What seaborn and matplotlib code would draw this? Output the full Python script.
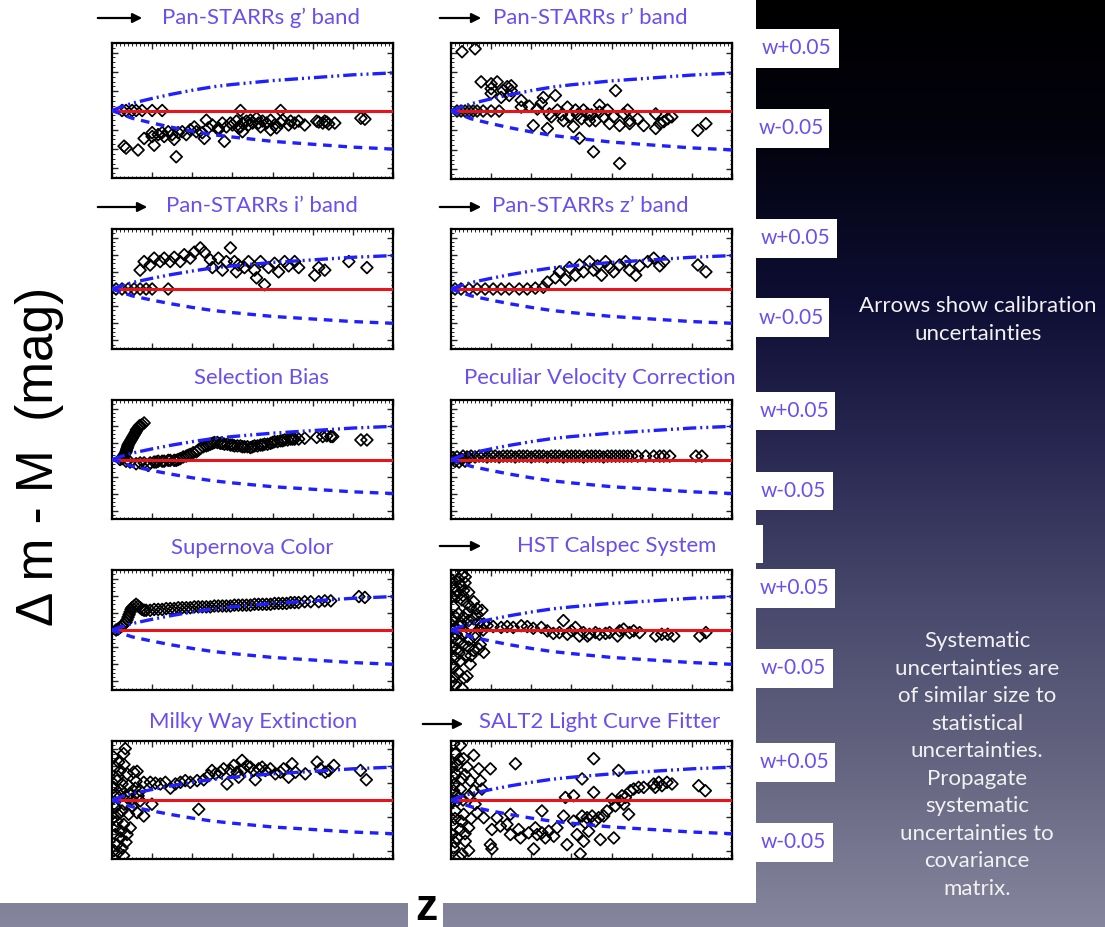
import numpy as np
import matplotlib
matplotlib.use("Agg")
import matplotlib.pyplot as plt
import seaborn as sns
from matplotlib.patches import Rectangle, FancyArrowPatch
from matplotlib.ticker import MultipleLocator

# ---------------- data (z, delta m-M in mag) ----------------
curve_z = [0, 0.05, 0.1, 0.2, 0.3, 0.4, 0.5, 0.6, 0.8, 1.0, 1.2, 1.4]
curve_wplus = [0, 0.004, 0.0075, 0.0125, 0.017, 0.021, 0.0245, 0.027, 0.031, 0.034, 0.037, 0.039]
curve_wminus = [0, -0.004, -0.008, -0.013, -0.0175, -0.0215, -0.025, -0.0275, -0.032, -0.035, -0.038, -0.040]

gband_pts = [(0.05,0),(0.07,0),(0.10,0),(0.12,0),(0.15,0),(0.20,0),(0.25,0),(0.64,0),(0.84,0),
 (0.06,-0.037),(0.07,-0.039),(0.13,-0.041),(0.16,-0.029),(0.20,-0.023),(0.20,-0.027),(0.21,-0.036),
 (0.23,-0.025),(0.25,-0.023),(0.26,-0.027),(0.28,-0.022),(0.30,-0.025),(0.31,-0.030),(0.32,-0.048),
 (0.33,-0.023),(0.35,-0.022),(0.37,-0.025),(0.39,-0.020),(0.41,-0.017),(0.42,-0.022),(0.45,-0.023),
 (0.46,-0.029),(0.47,-0.010),(0.48,-0.018),(0.50,-0.015),(0.53,-0.020),(0.53,-0.018),(0.55,-0.013),
 (0.56,-0.032),(0.57,-0.017),(0.59,-0.013),(0.60,-0.015),(0.62,-0.011),(0.63,-0.018),(0.64,-0.017),
 (0.65,-0.022),(0.65,-0.013),(0.67,-0.011),(0.68,-0.015),(0.69,-0.010),(0.70,-0.013),(0.72,-0.008),
 (0.73,-0.013),(0.74,-0.017),(0.75,-0.011),(0.77,-0.013),(0.79,-0.020),(0.79,-0.010),(0.81,-0.015),
 (0.82,-0.018),(0.84,-0.013),(0.85,-0.010),(0.88,-0.015),(0.89,-0.011),(0.91,-0.013),(0.93,-0.011),
 (0.96,-0.015),(1.02,-0.011),(1.03,-0.012),(1.05,-0.013),(1.06,-0.011),(1.07,-0.012),(1.08,-0.014),
 (1.11,-0.013),(1.24,-0.008),(1.26,-0.009)]

rband_pts = [(0.055,0.061),(0.12,0.064),
 (0.03,0),(0.05,0),(0.07,0),(0.09,0),(0.11,0),(0.13,0),(0.16,0),(0.20,0),(0.24,0),
 (0.15,0.030),(0.20,0.023),(0.20,0.028),(0.23,0.030),(0.20,0.018),(0.25,0.014),(0.26,0.021),
 (0.28,0.025),(0.30,0.026),(0.29,0.016),(0.30,0.021),(0.35,0.011),(0.35,0.004),(0.39,0.005),
 (0.41,-0.015),(0.43,0.002),(0.45,0.008),(0.46,0.014),(0.48,-0.018),(0.49,-0.003),(0.50,-0.006),
 (0.52,0.016),(0.53,0.001),(0.55,-0.004),(0.56,-0.010),(0.58,0.004),(0.59,-0.006),(0.61,-0.016),
 (0.62,0.001),(0.63,-0.004),(0.64,-0.028),(0.65,-0.008),(0.66,0.001),(0.68,-0.003),(0.69,-0.010),
 (0.70,-0.004),(0.71,-0.042),(0.72,-0.010),(0.74,-0.001),(0.74,0.006),(0.76,-0.006),(0.78,0.001),
 (0.79,-0.013),(0.81,-0.006),(0.82,0.021),(0.84,-0.054),(0.84,-0.015),(0.86,-0.003),(0.88,0.001),
 (0.89,-0.010),(0.89,-0.013),(0.93,-0.008),(0.96,-0.015),(1.02,-0.003),(1.02,-0.018),(1.04,-0.013),
 (1.06,-0.011),(1.08,-0.008),(1.10,-0.006),(1.23,-0.020),(1.27,-0.013)]

iband_pts = [(0.02,0),(0.05,0),(0.08,0),(0.11,0),(0.14,0),(0.17,0),(0.20,0),(0.28,0),
 (0.14,0.022),(0.16,0.032),(0.19,0.028),(0.21,0.036),(0.24,0.032),(0.26,0.036),(0.29,0.032),
 (0.31,0.037),(0.34,0.032),(0.36,0.040),(0.39,0.036),(0.41,0.043),(0.44,0.048),(0.46,0.043),
 (0.49,0.034),(0.50,0.025),(0.53,0.036),(0.55,0.022),(0.57,0.032),(0.59,0.048),(0.61,0.032),
 (0.62,0.020),(0.63,0.028),(0.66,0.025),(0.68,0.032),(0.71,0.022),(0.72,0.013),(0.74,0.032),
 (0.76,0.005),(0.78,0.025),(0.81,0.030),(0.83,0.020),(0.86,0.032),(0.88,0.027),(0.91,0.032),
 (0.93,0.025),(1.01,0.016),(1.03,0.025),(1.06,0.022),(1.18,0.032),(1.27,0.025)]

zband_pts = [(0.02,0),(0.05,0),(0.09,0),(0.13,0),(0.17,0),(0.21,0),(0.25,0),(0.29,0),(0.34,0),
 (0.38,0),(0.42,0.001),(0.46,0.002),
 (0.48,0.008),(0.52,0.013),(0.54,0.020),(0.57,0.011),(0.59,0.025),(0.62,0.016),(0.64,0.028),
 (0.66,0.020),(0.69,0.032),(0.71,0.022),(0.73,0.027),(0.75,0.016),(0.77,0.032),(0.79,0.025),
 (0.81,0.020),(0.84,0.028),(0.87,0.032),(0.89,0.022),(0.92,0.016),(0.94,0.027),(0.98,0.032),
 (1.01,0.036),(1.04,0.027),(1.06,0.032),(1.23,0.028),(1.27,0.020)]

selbias_pts = [(0.04,0.0),(0.05,0.001),(0.055,0.003),(0.06,0.005),(0.065,0.007),(0.07,0.009),
 (0.072,0.011),(0.075,0.013),(0.078,0.015),(0.08,0.017),(0.085,0.019),(0.09,0.021),(0.095,0.023),
 (0.10,0.025),(0.105,0.027),(0.11,0.029),(0.115,0.031),(0.12,0.033),(0.122,0.035),(0.13,0.037),
 (0.135,0.039),(0.14,0.040),(0.15,0.041),(0.16,0.043),
 (0.07,-0.002),(0.09,-0.003),(0.12,-0.005),(0.14,-0.004),(0.16,-0.004),(0.18,-0.007),(0.19,-0.004),
 (0.21,-0.003),(0.22,-0.003),(0.23,-0.002),(0.25,-0.002),(0.26,-0.002),(0.28,-0.001),(0.29,-0.001),
 (0.31,-0.001),(0.32,-0.001),(0.33,0.000),(0.34,0.001),(0.355,0.003),(0.37,0.004),(0.38,0.005),
 (0.39,0.006),(0.405,0.008),(0.42,0.009),(0.43,0.011),(0.44,0.013),(0.455,0.015),(0.47,0.016),
 (0.48,0.017),(0.49,0.018),(0.50,0.019),(0.51,0.020),(0.525,0.020),(0.54,0.019),(0.55,0.019),
 (0.56,0.018),(0.575,0.018),(0.59,0.017),(0.60,0.017),(0.61,0.016),(0.625,0.016),(0.64,0.016),
 (0.65,0.015),(0.66,0.015),(0.675,0.015),(0.69,0.014),(0.70,0.015),(0.71,0.016),(0.725,0.016),
 (0.74,0.017),(0.75,0.017),(0.76,0.018),(0.775,0.018),(0.79,0.019),(0.80,0.020),(0.81,0.021),
 (0.825,0.021),(0.84,0.022),(0.85,0.022),(0.86,0.023),(0.875,0.023),(0.89,0.024),(0.90,0.024),
 (0.91,0.024),(0.93,0.024),(0.96,0.025),(1.02,0.026),(1.05,0.027),(1.07,0.028),(1.09,0.027),
 (1.10,0.027),(1.24,0.023),(1.27,0.023)]

pecvel_pts = [(0.01,0.002),(0.02,-0.002),(0.03,0.003),(0.04,-0.003),(0.05,0.001),(0.06,0.004),
 (0.07,-0.002),(0.08,0.003),(0.09,0.002),(0.10,0.004),(0.12,0.003),(0.14,0.004),(0.16,0.004),
 (0.18,0.003),(0.20,0.004),(0.22,0.004),(0.24,0.003),(0.26,0.004),(0.28,0.004),(0.30,0.004),
 (0.32,0.003),(0.34,0.004),(0.36,0.004),(0.38,0.004),(0.40,0.003),(0.42,0.004),(0.44,0.004),
 (0.46,0.004),(0.48,0.003),(0.50,0.004),(0.52,0.004),(0.54,0.004),(0.56,0.003),(0.58,0.004),
 (0.60,0.004),(0.62,0.004),(0.64,0.004),(0.66,0.003),(0.68,0.004),(0.70,0.004),(0.72,0.004),
 (0.74,0.004),(0.76,0.003),(0.78,0.004),(0.80,0.004),(0.82,0.004),(0.84,0.004),(0.86,0.004),
 (0.88,0.004),(0.90,0.004),(0.93,0.004),(0.97,0.004),(1.01,0.004),(1.04,0.004),(1.06,0.004),
 (1.09,0.004),(1.22,0.004),(1.25,0.004)]

sncolor_pts = [(0.02,0.0),(0.03,0.001),(0.04,0.003),(0.05,0.005),(0.06,0.007),(0.07,0.009),
 (0.075,0.012),(0.08,0.015),(0.085,0.018),(0.09,0.021),(0.095,0.024),(0.10,0.026),(0.11,0.028),
 (0.12,0.030),(0.13,0.028),(0.14,0.026),(0.15,0.024),(0.16,0.023),(0.17,0.023),(0.19,0.023),
 (0.21,0.024),(0.23,0.024),(0.25,0.024),(0.27,0.025),(0.29,0.025),(0.31,0.025),(0.33,0.026),
 (0.35,0.026),(0.37,0.026),(0.39,0.026),(0.41,0.027),(0.43,0.027),(0.45,0.027),(0.47,0.027),
 (0.49,0.027),(0.51,0.028),(0.53,0.028),(0.55,0.028),(0.57,0.028),(0.59,0.028),(0.61,0.029),
 (0.63,0.029),(0.65,0.029),(0.67,0.029),(0.69,0.029),(0.71,0.030),(0.73,0.030),(0.75,0.030),
 (0.77,0.030),(0.79,0.030),(0.81,0.031),(0.83,0.031),(0.85,0.031),(0.87,0.031),(0.89,0.032),
 (0.91,0.032),(0.93,0.032),(0.96,0.033),(0.99,0.033),(1.03,0.033),(1.06,0.034),(1.09,0.034),
 (1.23,0.039),(1.26,0.038)]

hst_pts = [(0.013,0.066),(0.038,0.060),(0.055,0.064),(0.071,0.062),(0.013,0.050),(0.047,0.052),
 (0.063,0.046),(0.088,0.044),(0.030,0.039),(0.055,0.035),(0.080,0.031),(0.096,0.027),(0.113,0.033),
 (0.130,0.025),(0.154,0.023),(0.013,0.027),(0.038,0.019),(0.063,0.015),(0.088,0.011),(0.113,0.013),
 (0.138,0.009),(0.163,0.007),(0.013,-0.009),(0.038,-0.013),(0.063,-0.017),(0.088,-0.020),
 (0.113,-0.024),(0.138,-0.022),(0.163,-0.026),(0.022,-0.032),(0.047,-0.036),(0.071,-0.030),
 (0.096,-0.040),(0.013,-0.044),(0.038,-0.050),(0.063,-0.056),(0.080,-0.054),(0.022,-0.064),
 (0.055,-0.068),(0.146,-0.017),(0.121,-0.009),(0.005,0.058),(0.005,0.039),(0.005,0.011),
 (0.005,-0.020),(0.005,-0.040),(0.022,0.003),(0.027,-0.005),(0.045,0.004),(0.070,-0.003),
 (0.03,0.045),(0.06,0.040),(0.02,0.016),(0.05,0.008),(0.08,0.020),(0.10,0.005),(0.03,-0.022),
 (0.06,-0.006),(0.09,-0.012),(0.12,-0.005),(0.015,-0.055),(0.04,-0.027),(0.10,-0.030),
 (0.07,0.055),(0.13,0.018),(0.005,0.0),(0.005,-0.060),(0.15,0.003),(0.16,0.000),
 (0.18,0.005),(0.21,0.004),(0.25,0.003),(0.28,0.004),(0.31,0.003),(0.35,0.005),(0.38,0.004),
 (0.41,0.002),(0.45,0.003),(0.48,-0.001),(0.51,-0.004),(0.54,-0.003),(0.56,0.011),(0.58,-0.005),
 (0.60,-0.001),(0.62,0.003),(0.64,-0.007),(0.66,-0.003),(0.68,-0.007),(0.69,-0.005),(0.72,-0.003),
 (0.74,-0.005),(0.77,-0.004),(0.79,-0.003),(0.83,-0.007),(0.84,-0.001),(0.86,0.001),(0.89,-0.003),
 (0.91,-0.001),(0.94,-0.003),(1.02,-0.007),(1.05,-0.005),(1.08,-0.005),(1.11,-0.007),(1.24,-0.007),
 (1.27,-0.003)]

mwext_pts = [(0.066,0.061),(0.058,0.055),(0.033,0.045),(0.017,0.039),(0.042,0.035),(0.075,0.031),
 (0.108,0.033),(0.125,0.034),(0.025,0.023),(0.050,0.019),(0.083,0.017),(0.116,0.014),(0.141,0.011),
 (0.017,0.007),(0.042,0.005),(0.075,0.003),(0.100,0.001),(0.141,-0.001),(0.199,-0.005),
 (0.017,-0.009),(0.050,-0.013),(0.083,-0.017),(0.125,-0.015),(0.158,-0.019),(0.025,-0.025),
 (0.058,-0.029),(0.091,-0.033),(0.017,-0.041),(0.042,-0.045),(0.075,-0.041),(0.025,-0.053),
 (0.050,-0.057),(0.033,-0.062),(0.058,-0.066),(0.008,-0.021),(0.008,0.015),(0.008,0.051),
 (0.01,-0.005),(0.03,-0.017),(0.06,-0.005),(0.09,0.008),(0.03,0.028),(0.06,0.042),(0.02,-0.032),
 (0.045,-0.037),(0.07,-0.050),(0.01,-0.060),(0.12,0.022),(0.10,-0.008),(0.04,0.012),(0.13,0.005),
 (0.158,0.021),(0.191,0.021),(0.216,0.020),(0.241,0.019),(0.266,0.021),(0.291,0.014),(0.316,0.019),
 (0.341,0.021),(0.365,0.023),(0.390,0.021),(0.424,0.023),(0.432,-0.011),(0.457,0.024),(0.482,0.029),
 (0.498,0.035),(0.515,0.031),(0.540,0.033),(0.556,0.037),(0.573,0.019),(0.590,0.035),(0.606,0.041),
 (0.623,0.033),(0.631,0.027),(0.648,0.047),(0.656,0.037),(0.673,0.041),(0.689,0.039),(0.706,0.035),
 (0.714,0.024),(0.731,0.037),(0.748,0.039),(0.764,0.035),(0.789,0.037),(0.814,0.031),(0.839,0.033),
 (0.855,0.037),(0.880,0.027),(0.897,0.043),(0.914,0.033),(0.963,0.031),(1.022,0.045),(1.038,0.037),
 (1.063,0.033),(1.080,0.035),(1.105,0.041),(1.238,0.035),(1.267,0.024)]

salt2_pts = [(0.013,0.067),(0.047,0.065),(0.022,0.055),(0.063,0.049),(0.113,0.053),(0.030,0.041),
 (0.080,0.039),(0.138,0.037),(0.013,0.027),(0.055,0.025),(0.096,0.023),(0.146,0.023),(0.013,0.011),
 (0.047,0.013),(0.113,0.011),(0.154,0.013),(0.022,-0.013),(0.063,-0.017),(0.130,-0.015),
 (0.163,-0.021),(0.013,-0.029),(0.047,-0.035),(0.088,-0.033),(0.030,-0.045),(0.071,-0.049),
 (0.013,-0.057),(0.055,-0.064),(0.088,-0.060),(0.005,-0.001),(0.005,0.039),(0.005,-0.041),
 (0.030,-0.001),(0.02,0.032),(0.04,0.048),(0.07,0.030),(0.03,0.005),(0.06,0.000),(0.09,0.005),
 (0.02,-0.022),(0.05,-0.025),(0.10,-0.022),(0.02,-0.050),(0.04,-0.068),(0.07,-0.040),
 (0.12,-0.005),(0.015,0.018),
 (0.196,0.037),(0.321,0.043),(0.204,-0.035),(0.196,-0.053),(0.204,-0.058),
 (0.229,-0.021),(0.246,-0.031),(0.279,-0.029),(0.296,-0.017),(0.296,-0.041),(0.337,-0.035),
 (0.346,-0.045),(0.387,-0.039),(0.412,-0.058),(0.420,-0.033),(0.429,-0.041),(0.453,-0.013),
 (0.453,-0.039),(0.470,-0.045),(0.487,-0.037),(0.512,-0.043),(0.528,-0.033),(0.561,-0.019),
 (0.570,0.003),(0.578,-0.053),(0.611,0.005),(0.611,-0.025),(0.628,-0.041),(0.644,-0.064),
 (0.653,0.025),(0.653,-0.019),(0.661,-0.049),(0.669,-0.027),(0.678,-0.021),(0.686,-0.037),
 (0.703,-0.019),(0.711,0.049),(0.711,0.009),(0.719,-0.025),(0.736,-0.021),(0.744,-0.047),
 (0.761,-0.019),(0.777,-0.013),(0.802,0.001),(0.811,-0.045),(0.819,-0.007),(0.835,0.035),
 (0.844,-0.001),(0.852,0.005),(0.861,-0.005),(0.869,0.003),(0.885,-0.017),(0.894,0.011),
 (0.910,0.013),(0.935,0.015),(0.960,0.015),(1.010,0.019),(1.018,0.015),(1.035,0.021),(1.051,0.017),
 (1.076,0.021),(1.101,0.019),(1.234,0.017),(1.267,0.011)]

panel_titles = ["Pan-STARRs g’ band", "Pan-STARRs r’ band", "Pan-STARRs i’ band",
                "Pan-STARRs z’ band", "Selection Bias", "Peculiar Velocity Correction",
                "Supernova Color", "HST Calspec System", "Milky Way Extinction",
                "SALT2 Light Curve Fitter"]
panel_data = [gband_pts, rband_pts, iband_pts, zband_pts, selbias_pts, pecvel_pts,
              sncolor_pts, hst_pts, mwext_pts, salt2_pts]
w_labels = ["w+0.05", "w-0.05"]

# ---------------- layout (pixels of the 1105x927 slide) ----------------
W, H = 1105, 927
sns.set_style("ticks")
plt.rcParams['font.family'] = ['Lato', 'DejaVu Sans']

fig = plt.figure(figsize=(W / 100, H / 100), dpi=100)

def fx(px):
    return px / W

def fy(py):
    return 1 - py / H

# slide background gradient
bg = fig.add_axes([0, 0, 1, 1], zorder=-10)
bg.axis('off')
stops_y = [0, 140, 300, 450, 600, 760, 927]
stops_c = np.array([[0, 0, 0], [3, 3, 14], [14, 14, 52], [40, 40, 82],
                    [72, 72, 108], [100, 100, 128], [134, 134, 158]]) / 255
yy = np.arange(H)
grad = np.stack([np.interp(yy, stops_y, stops_c[:, k]) for k in range(3)], axis=1)
bg.imshow(np.repeat(grad[:, None, :], 2, axis=1), aspect='auto',
          extent=[0, 1, 0, 1], origin='upper')
bg.set_xlim(0, 1)
bg.set_ylim(0, 1)

def white_box(x0, y0, x1, y1):
    fig.patches.append(Rectangle((fx(x0), fy(y1)), (x1 - x0) / W, (y1 - y0) / H,
                                 transform=fig.transFigure, facecolor='white',
                                 edgecolor='none', zorder=-5))

white_box(0, 0, 756, 903)
white_box(756, 525, 763, 563)
white_box(408, 895, 443, 927)

violet = '#6a4ef0'
label_boxes = [(29, 68, 839), (109, 148, 829), (219, 258, 837), (298, 337, 829),
               (392, 430, 835), (472, 510, 833), (569, 608, 835), (649, 688, 833),
               (743, 782, 835), (823, 862, 833)]
for i, (y0, y1, x1) in enumerate(label_boxes):
    white_box(756, y0, x1, y1)
    fig.text(fx((756 + x1) / 2 - 1), fy((y0 + y1) / 2), w_labels[i % 2],
             color=violet, fontsize=15, ha='center', va='center')

boxes = [(112, 43, 393, 178), (451, 43, 732, 179),
         (112, 229, 393, 349), (451, 229, 732, 349),
         (112, 400, 393, 519), (451, 400, 732, 519),
         (112, 570, 393, 690), (451, 570, 732, 690),
         (112, 741, 393, 859), (451, 741, 732, 859)]
title_pos = [(261, 18), (590, 18), (262, 206), (590, 206), (261, 378), (600, 378),
             (252, 548), (617, 546), (253, 722), (600, 722)]
arrows = {0: (95, 145, 18), 1: (437, 484, 18), 2: (95, 150, 207), 3: (437, 484, 207),
          7: (437, 484, 546), 9: (420, 466, 724)}

blue = '#1f1fff'
red = '#e8141c'

for i, (x0, y0, x1, y1) in enumerate(boxes):
    ax = fig.add_axes([fx(x0), fy(y1), (x1 - x0) / W, (y1 - y0) / H])
    ax.set_facecolor('white')
    pts = panel_data[i]
    z = [p[0] for p in pts]
    dm = [p[1] for p in pts]
    ax.axhline(0, color=red, lw=2.2, zorder=3.5)
    sns.scatterplot(x=z, y=dm, ax=ax, marker='D', s=36, facecolor='none',
                    edgecolor='black', linewidth=1.25, legend=False, zorder=3)
    sns.lineplot(x=curve_z, y=curve_wplus, ax=ax, color=blue, lw=2.4,
                 linestyle=(0, (4, 1.2, 0.6, 1.2, 0.6, 1.2)), sort=False,
                 estimator=None, legend=False, zorder=4)
    sns.lineplot(x=curve_z, y=curve_wminus, ax=ax, color=blue, lw=2.4,
                 linestyle=(0, (2.6, 2.0)), sort=False, estimator=None,
                 legend=False, zorder=4)
    ax.set_xlim(0, 1.4)
    ax.set_ylim(-0.07, 0.07)
    ax.xaxis.set_major_locator(MultipleLocator(0.2))
    ax.xaxis.set_minor_locator(MultipleLocator(0.02))
    ax.yaxis.set_major_locator(MultipleLocator(0.02))
    ax.yaxis.set_minor_locator(MultipleLocator(0.005))
    ax.tick_params(which='both', direction='in', top=True, right=True,
                   labelbottom=False, labelleft=False)
    ax.tick_params(which='major', length=4, width=1.0)
    ax.tick_params(which='minor', length=1.8, width=0.7)
    for sp in ax.spines.values():
        sp.set_linewidth(1.6)
        sp.set_color('black')
    ax.set_xlabel('')
    ax.set_ylabel('')
    tx, ty = title_pos[i]
    fig.text(fx(tx), fy(ty), panel_titles[i], color=violet, fontsize=15.9,
             ha='center', va='center')
    if i in arrows:
        ax0, ax1, ay = arrows[i]
        fig.add_artist(FancyArrowPatch(
            (fx(ax0), fy(ay)), (fx(ax1), fy(ay)), transform=fig.transFigure,
            arrowstyle='-|>', mutation_scale=14, lw=1.6, color='black'))

# axis labels
fig.text(fx(40), fy(456), "Δ m - M  (mag)", rotation=90, fontsize=37,
         family=['Liberation Sans', 'DejaVu Sans'], ha='center', va='center',
         color='black')
fig.text(fx(426), fy(908), "z", fontsize=32, fontweight='bold',
         family=['Liberation Sans', 'DejaVu Sans'], ha='center', va='center',
         color='black')

# slide notes
fig.text(fx(978), fy(320), "Arrows show calibration\nuncertainties", color='#f2f2f2',
         fontsize=16, ha='center', va='center', linespacing=1.47)
fig.text(fx(977), fy(765),
         "Systematic\nuncertainties are\nof similar size to\nstatistical\nuncertainties.\n"
         "Propagate\nsystematic\nuncertainties to\ncovariance\nmatrix.",
         color='#f2f2f2', fontsize=16, ha='center', va='center', linespacing=1.47)

fig.savefig("out.png", dpi=100)
